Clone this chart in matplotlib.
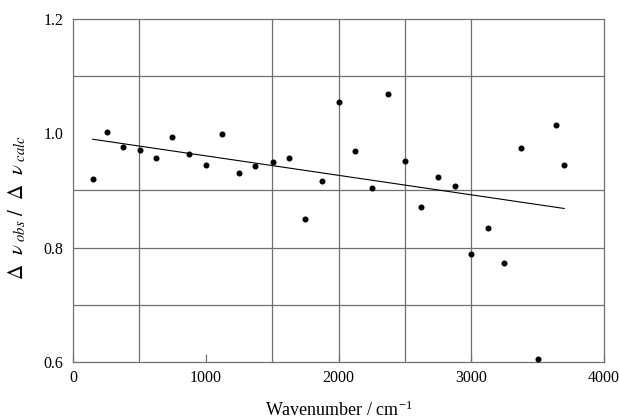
import numpy as np
import matplotlib
matplotlib.use("Agg")
import matplotlib.pyplot as plt

# Datos
numero_onda = [148, 254, 377, 505, 628, 748, 876, 1002, 1125, 1250, 1374, 1504, 1625,
               1750, 1876, 2001, 2122, 2252, 2375, 2503, 2624, 2750, 2875, 2998, 3124,
               3249, 3372, 3500, 3636, 3699]
razon = [0.920, 1.002, 0.976, 0.971, 0.956, 0.994, 0.963, 0.945, 0.998, 0.931, 0.942,
         0.949, 0.957, 0.850, 0.917, 1.054, 0.969, 0.905, 1.069, 0.952, 0.871, 0.924,
         0.907, 0.788, 0.834, 0.773, 0.974, 0.606, 1.015, 0.944]

ticks_x = [0, 1000, 2000, 3000, 4000]
ticks_y = [0.6, 0.8, 1.0, 1.2]
rejilla_x = [500, 1500, 2000, 2500, 3000]
rejilla_y = [0.7, 0.8, 0.9, 1.1]

plt.rcParams['font.family'] = ['Liberation Serif', 'DejaVu Serif']
plt.rcParams['mathtext.fontset'] = 'stix'

fig = plt.figure(figsize=(6.19, 4.19), dpi=100)
ax = fig.add_axes([0.118, 0.136, 0.858, 0.819])

gris = '#707070'
for gx in rejilla_x:
    ax.axvline(gx, color=gris, lw=0.9, zorder=1)
for gy in rejilla_y:
    ax.axhline(gy, color=gris, lw=0.9, zorder=1)

ax.scatter(numero_onda, razon, s=11, color='black', zorder=3)

# Recta de ajuste lineal
coef = np.polyfit(numero_onda, razon, 1)
xs = np.array([numero_onda[0], numero_onda[-1]])
ax.plot(xs, np.polyval(coef, xs), color='black', lw=0.8, zorder=2)

ax.set_xlim(0, 4000)
ax.set_ylim(0.6, 1.2)
ax.set_xticks(ticks_x)
ax.set_xticklabels([str(t) for t in ticks_x])
ax.set_yticks(ticks_y)
ax.set_yticklabels([f'{t:.1f}' for t in ticks_y])
ax.tick_params(axis='x', direction='in', length=6, color=gris, width=0.9,
               labelsize=11.5, pad=6)
ax.tick_params(axis='y', length=0, labelsize=11.5, pad=7)
for s in ax.spines.values():
    s.set_color(gris)
    s.set_linewidth(0.9)

ax.set_xlabel('Wavenumber / cm$^{\\mathregular{-1}}$', fontsize=13, labelpad=10)
ax.set_ylabel(r'$\Delta\ \ \nu_{\ obs}\ /\ \ \Delta\ \ \nu_{\ calc}$', fontsize=15,
              labelpad=2)
ax.yaxis.set_label_coords(-0.085, 0.45)

fig.savefig('out.png', dpi=100)
